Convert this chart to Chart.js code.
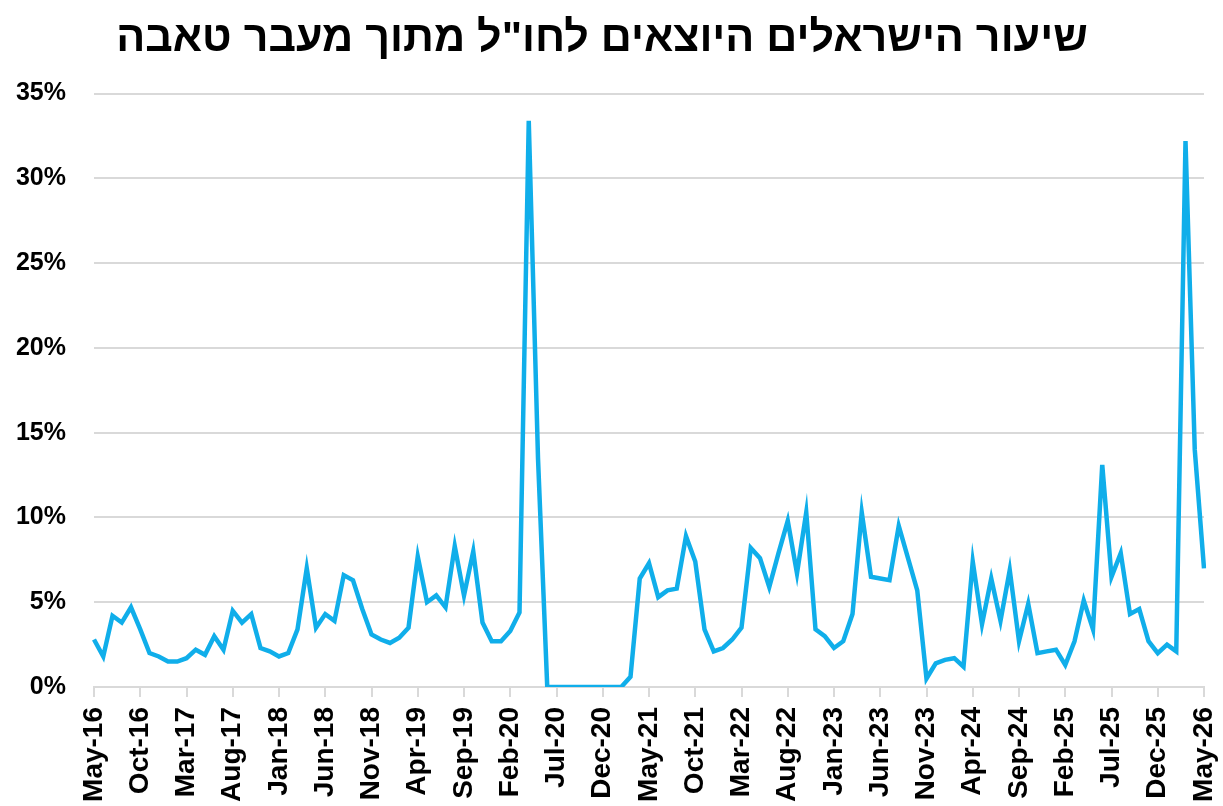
<!DOCTYPE html>
<html>
<head>
<meta charset="utf-8">
<script src="https://cdn.jsdelivr.net/npm/chart.js@4.4.1/dist/chart.umd.min.js"></script>
<style>
  html, body { margin: 0; padding: 0; background: #fff; }
  #wrap { width: 1223px; height: 806px; position: relative; }
</style>
</head>
<body>
<div id="wrap"><canvas id="chart"></canvas></div>
<script>
const chartTitle = 'שיעור הישראלים היוצאים לחו"ל מתוך מעבר טאבה';

const months = [
  'May-16', 'Jun-16', 'Jul-16', 'Aug-16', 'Sep-16', 'Oct-16', 'Nov-16', 'Dec-16',
  'Jan-17', 'Feb-17', 'Mar-17', 'Apr-17', 'May-17', 'Jun-17', 'Jul-17', 'Aug-17', 'Sep-17', 'Oct-17', 'Nov-17', 'Dec-17',
  'Jan-18', 'Feb-18', 'Mar-18', 'Apr-18', 'May-18', 'Jun-18', 'Jul-18', 'Aug-18', 'Sep-18', 'Oct-18', 'Nov-18', 'Dec-18',
  'Jan-19', 'Feb-19', 'Mar-19', 'Apr-19', 'May-19', 'Jun-19', 'Jul-19', 'Aug-19', 'Sep-19', 'Oct-19', 'Nov-19', 'Dec-19',
  'Jan-20', 'Feb-20', 'Mar-20', 'Apr-20', 'May-20', 'Jun-20', 'Jul-20', 'Aug-20', 'Sep-20', 'Oct-20', 'Nov-20', 'Dec-20',
  'Jan-21', 'Feb-21', 'Mar-21', 'Apr-21', 'May-21', 'Jun-21', 'Jul-21', 'Aug-21', 'Sep-21', 'Oct-21', 'Nov-21', 'Dec-21',
  'Jan-22', 'Feb-22', 'Mar-22', 'Apr-22', 'May-22', 'Jun-22', 'Jul-22', 'Aug-22', 'Sep-22', 'Oct-22', 'Nov-22', 'Dec-22',
  'Jan-23', 'Feb-23', 'Mar-23', 'Apr-23', 'May-23', 'Jun-23', 'Jul-23', 'Aug-23', 'Sep-23', 'Oct-23', 'Nov-23', 'Dec-23',
  'Jan-24', 'Feb-24', 'Mar-24', 'Apr-24', 'May-24', 'Jun-24', 'Jul-24', 'Aug-24', 'Sep-24', 'Oct-24', 'Nov-24', 'Dec-24',
  'Jan-25', 'Feb-25', 'Mar-25', 'Apr-25', 'May-25', 'Jun-25', 'Jul-25', 'Aug-25', 'Sep-25', 'Oct-25', 'Nov-25', 'Dec-25',
  'Jan-26', 'Feb-26', 'Mar-26', 'Apr-26', 'May-26'
];

// share of Israelis leaving via Taba, percent
const shareValues = [
  2.8, 1.8, 4.2, 3.8, 4.7, 3.4, 2.0, 1.8,
  1.5, 1.5, 1.7, 2.2, 1.9, 3.0, 2.2, 4.5, 3.8, 4.3, 2.3, 2.1,
  1.8, 2.0, 3.4, 7.0, 3.5, 4.3, 3.9, 6.6, 6.3, 4.6, 3.1, 2.8,
  2.6, 2.9, 3.5, 7.7, 5.0, 5.4, 4.7, 8.3, 5.4, 8.0, 3.8, 2.7,
  2.7, 3.3, 4.4, 33.4, 13.5, 0, 0, 0, 0, 0, 0, 0,
  0, 0, 0.6, 6.4, 7.3, 5.3, 5.7, 5.8, 8.9, 7.4, 3.4, 2.1,
  2.3, 2.8, 3.5, 8.2, 7.6, 5.9, 7.9, 9.8, 6.7, 10.3, 3.4, 3.0,
  2.3, 2.7, 4.3, 10.3, 6.5, 6.4, 6.3, 9.5, 7.6, 5.7, 0.5, 1.4,
  1.6, 1.7, 1.2, 7.4, 3.7, 6.4, 3.9, 6.9, 2.7, 4.9, 2.0, 2.1,
  2.2, 1.3, 2.7, 5.1, 3.4, 13.1, 6.5, 7.9, 4.3, 4.6, 2.7, 2.0,
  2.5, 2.1, 32.2, 14.0, 7.0
];

const tickLabels = [
  'May-16', 'Oct-16', 'Mar-17', 'Aug-17', 'Jan-18', 'Jun-18', 'Nov-18', 'Apr-19', 'Sep-19',
  'Feb-20', 'Jul-20', 'Dec-20', 'May-21', 'Oct-21', 'Mar-22', 'Aug-22', 'Jan-23', 'Jun-23',
  'Nov-23', 'Apr-24', 'Sep-24', 'Feb-25', 'Jul-25', 'Dec-25', 'May-26'
];

const yTicks = [0, 5, 10, 15, 20, 25, 30, 35];

const gridGray = '#d9d9d9';
const lineBlue = '#10aeea';
const fontFamily = '"Liberation Sans", Arial, sans-serif';

const isTick = (i) => tickLabels.includes(months[i]);

const ctx = document.getElementById('chart').getContext('2d');
new Chart(ctx, {
  type: 'line',
  data: {
    labels: months,
    datasets: [{
      data: shareValues,
      borderColor: lineBlue,
      borderWidth: 4.5,
      pointRadius: 0,
      tension: 0,
      fill: false
    }]
  },
  options: {
    responsive: true,
    maintainAspectRatio: false,
    animation: false,
    layout: { padding: { left: 0, right: 19, top: 0, bottom: 0 } },
    plugins: {
      legend: { display: false },
      tooltip: { enabled: false },
      title: {
        display: true,
        text: chartTitle,
        color: '#000',
        font: { family: fontFamily, size: 43, weight: 'bold' },
        padding: { top: 13, bottom: 29 }
      }
    },
    scales: {
      x: {
        offset: false,
        afterFit: (axis) => {
          axis.height = 119;
          axis.paddingLeft = 0;
          axis.paddingRight = 0;
        },
        grid: {
          drawOnChartArea: false,
          drawTicks: true,
          tickLength: 10,
          lineWidth: 2,
          tickColor: (c) => isTick(c.index) ? gridGray : 'rgba(0,0,0,0)'
        },
        border: { display: true, color: gridGray, width: 2 },
        ticks: {
          autoSkip: false,
          maxRotation: 90,
          minRotation: 90,
          padding: 10,
          color: '#000',
          font: { family: fontFamily, size: 28, weight: 'bold' },
          callback: (v, i) => isTick(i) ? months[i] : ''
        }
      },
      y: {
        min: 0,
        max: 35,
        afterBuildTicks: (axis) => { axis.ticks = yTicks.map((v) => ({ value: v })); },
        afterFit: (axis) => { axis.width = 94; },
        grid: { color: gridGray, lineWidth: 2, drawTicks: false },
        border: { display: false },
        ticks: {
          padding: 28,
          color: '#000',
          font: { family: fontFamily, size: 25, weight: 'bold' },
          callback: (v) => v + '%'
        }
      }
    }
  }
});
</script>
</body>
</html>
